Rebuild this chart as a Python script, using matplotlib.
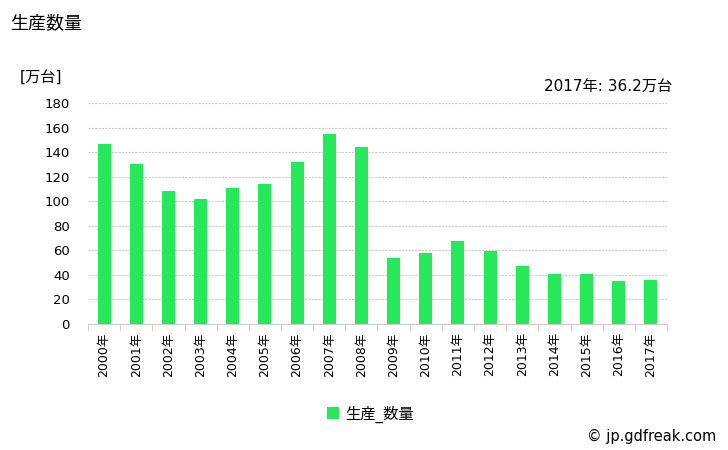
import matplotlib.pyplot as plt
import numpy as np

plt.rcParams['font.family'] = ['DejaVu Sans', 'Noto Sans CJK JP']

years = ['2000年', '2001年', '2002年', '2003年', '2004年', '2005年', '2006年', '2007年', '2008年',
         '2009年', '2010年', '2011年', '2012年', '2013年', '2014年', '2015年', '2016年', '2017年']
production = [147, 130.6, 108.6, 102, 111, 114.3, 132.2, 155.1, 144.5,
              53.9, 58, 67.8, 59.6, 47.3, 40.8, 40.8, 35.1, 36.2]
yticks = [0, 20, 40, 60, 80, 100, 120, 140, 160, 180]

fig = plt.figure(figsize=(7.28, 4.5), dpi=100)
ax = fig.add_axes([88 / 728, 126 / 450, 579 / 728, 221 / 450])

x = np.arange(len(years))
ax.bar(x, production, width=0.4, color='#26E85A', label='生産_数量', zorder=3)

ax.set_xlim(-0.5, len(years) - 0.5)
ax.set_ylim(0, 180)
ax.set_yticks(yticks)
ax.set_yticklabels([str(v) for v in yticks], fontsize=9.5)
ax.tick_params(axis='y', length=0, pad=13)
ax.yaxis.grid(True, color='#cccccc', linestyle=(0, (2, 1)), linewidth=0.8, zorder=0)

# category labels centred, boundary ticks between categories
ax.set_xticks(x)
ax.set_xticklabels(years, rotation=90, fontsize=9)
ax.tick_params(axis='x', length=0, pad=6)
ax.set_xticks(np.arange(len(years) + 1) - 0.5, minor=True)
ax.tick_params(axis='x', which='minor', length=5, color='#cccccc')

for side in ['left', 'right', 'top']:
    ax.spines[side].set_visible(False)
ax.spines['bottom'].set_color('#cccccc')
ax.spines['bottom'].set_linestyle((0, (2, 1)))

fig.text(10 / 728, 1 - 23 / 450, '生産数量', fontsize=13, va='center')
fig.text(20 / 728, 1 - 77 / 450, '[万台]', fontsize=11, va='center')
fig.text(672 / 728, 1 - 87 / 450, '2017年: 36.2万台', fontsize=11, va='center', ha='right')
fig.text(716 / 728, 1 - 436 / 450, '© jp.gdfreak.com', fontsize=10.5, va='center', ha='right')

fig.legend(loc='center', bbox_to_anchor=(370 / 728, 1 - 414 / 450), frameon=False,
           fontsize=11, handlelength=0.8, handleheight=0.8, handletextpad=0.4)

fig.savefig('out.png', dpi=100)
